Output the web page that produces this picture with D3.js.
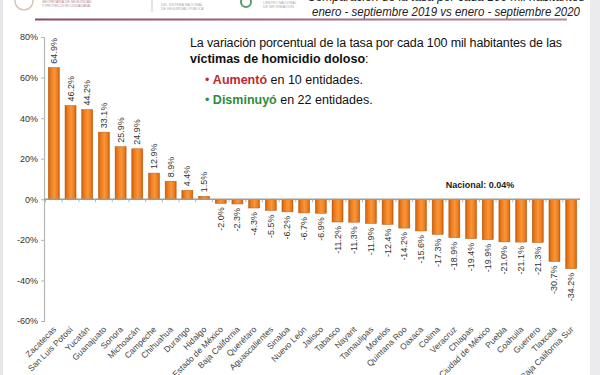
<!DOCTYPE html>
<html>
<head>
<meta charset="utf-8">
<script src="https://cdn.jsdelivr.net/npm/d3@7"></script>
<style>
  body { margin: 0; background: #fff; }
  svg { display: block; font-family: Arial, "Liberation Sans", sans-serif; }
</style>
</head>
<body>
<svg id="chart" width="600" height="375"></svg>
<script>
var width = 600;
var height = 375;

// entidades y variación porcentual (%)
var states = ["Zacatecas", "San Luis Potosí", "Yucatán", "Guanajuato", "Sonora", "Michoacán",
    "Campeche", "Chihuahua", "Durango", "Hidalgo", "Estado de México", "Baja California",
    "Querétaro", "Aguascalientes", "Sinaloa", "Nuevo León", "Jalisco", "Tabasco", "Nayarit",
    "Tamaulipas", "Morelos", "Quintana Roo", "Oaxaca", "Colima", "Veracruz", "Chiapas",
    "Ciudad de México", "Puebla", "Coahuila", "Guerrero", "Tlaxcala", "Baja California Sur"];
var values = [64.9, 46.2, 44.2, 33.1, 25.9, 24.9, 12.9, 8.9, 4.4, 1.5, -2.0, -2.3, -4.3, -5.5,
    -6.2, -6.7, -6.9, -11.2, -11.3, -11.9, -12.4, -14.2, -15.6, -17.3, -18.9, -19.4, -19.9,
    -21.0, -21.1, -21.3, -30.7, -34.2];
var yTicks = [80, 60, 40, 20, 0, -20, -40, -60];
var nacional = "Nacional: 0.04%";

var svg = d3.select("#chart");
var defs = svg.append("defs");

// page edges (photo of slide)
svg.append("rect").attr("x", 0).attr("y", 0).attr("width", 3).attr("height", height).attr("fill", "#e6e6e8");
svg.append("rect").attr("x", 590).attr("y", 0).attr("width", 10).attr("height", height).attr("fill", "#ebebee");

// header logos (faint)
var hdr = svg.append("g").attr("fill", "#b48a96").style("font-size", "3.5px");
hdr.append("circle").attr("cx", 24).attr("cy", 1).attr("r", 9).attr("fill", "none").attr("stroke", "#d8c6b0").attr("stroke-width", 1.5);
hdr.append("text").attr("x", 42).attr("y", 3).text("SECRETARÍA DE SEGURIDAD");
hdr.append("text").attr("x", 42).attr("y", 7).text("Y PROTECCIÓN CIUDADANA");
svg.append("line").attr("x1", 152).attr("x2", 152).attr("y1", 0).attr("y2", 12).attr("stroke", "#ccc");
hdr.append("text").attr("x", 161).attr("y", 6).attr("fill", "#aaa").text("DEL SISTEMA NACIONAL");
hdr.append("text").attr("x", 161).attr("y", 10).attr("fill", "#aaa").text("DE SEGURIDAD PÚBLICA");
hdr.append("circle").attr("cx", 246).attr("cy", 2).attr("r", 5).attr("fill", "none").attr("stroke", "#5a9b6a").attr("stroke-width", 2);
hdr.append("text").attr("x", 263).attr("y", 4).attr("fill", "#aaa").text("CENTRO NACIONAL");
hdr.append("text").attr("x", 263).attr("y", 8).attr("fill", "#aaa").text("DE INFORMACIÓN");

svg.append("text").attr("x", 446).attr("y", 0.5).attr("text-anchor", "middle")
    .style("font-size", "12px").style("font-style", "italic").attr("fill", "#222")
    .text("Comparación de la tasa por cada 100 mil habitantes");
svg.append("text").attr("x", 446).attr("y", 15.5).attr("text-anchor", "middle")
    .attr("textLength", 268).attr("lengthAdjust", "spacingAndGlyphs")
    .style("font-size", "12px").style("font-style", "italic").attr("fill", "#222")
    .text("enero - septiembre 2019 vs enero - septiembre 2020");

var grad0 = defs.append("linearGradient").attr("id", "hline")
    .attr("x1", "0%").attr("x2", "100%");
grad0.append("stop").attr("offset", "0%").attr("stop-color", "#8a4a66");
grad0.append("stop").attr("offset", "100%").attr("stop-color", "#b88aa0");
svg.append("rect").attr("x", 35).attr("y", 18.5).attr("width", 532).attr("height", 2).attr("fill", "url(#hline)");

// bar gradient
var bg = defs.append("linearGradient").attr("id", "bar").attr("x1", "0%").attr("x2", "100%");
bg.append("stop").attr("offset", "0%").attr("stop-color", "#c95f0e");
bg.append("stop").attr("offset", "25%").attr("stop-color", "#ef7d1c");
bg.append("stop").attr("offset", "55%").attr("stop-color", "#f8963c");
bg.append("stop").attr("offset", "85%").attr("stop-color", "#ec7a1a");
bg.append("stop").attr("offset", "100%").attr("stop-color", "#c45a0c");

var x = d3.scaleBand().domain(states).range([45, 580]).paddingInner(0.34).paddingOuter(0.2);
var y = d3.scaleLinear().domain([-60, 80]).range([321, 37]);

// y axis
var yAxis = svg.append("g").attr("transform", "translate(44,0)")
    .call(d3.axisLeft(y).tickValues(yTicks).tickSize(3).tickFormat(d => d + "%"));
yAxis.select(".domain").attr("stroke", "#b5b5b5").attr("stroke-width", 1.2);
yAxis.selectAll(".tick line").attr("stroke", "#b5b5b5");
yAxis.selectAll("text").attr("fill", "#333").style("font-size", "9px").attr("x", -6);

// bars
svg.selectAll(".bar").data(values).enter().append("rect")
    .attr("class", "bar")
    .attr("x", (d, i) => x(states[i]))
    .attr("width", x.bandwidth())
    .attr("y", d => y(Math.max(0, d)))
    .attr("height", d => Math.abs(y(d) - y(0)))
    .attr("fill", "url(#bar)")
    .attr("stroke", "#b85a10").attr("stroke-width", 0.5);

// zero line
svg.append("line").attr("x1", 44).attr("x2", 580).attr("y1", y(0)).attr("y2", y(0))
    .attr("stroke", "#9a9a9a").attr("stroke-width", 1.5);
svg.selectAll(".zt").data(states).enter().append("line")
    .attr("x1", d => x(d) - x.step() * x.paddingInner() / 2)
    .attr("x2", d => x(d) - x.step() * x.paddingInner() / 2)
    .attr("y1", y(0)).attr("y2", y(0) + 3).attr("stroke", "#b5b5b5");

// value labels
svg.selectAll(".val").data(values).enter().append("text")
    .attr("class", "val")
    .attr("transform", (d, i) => {
        var cx = x(states[i]) + x.bandwidth() / 2 + 3;
        var cy = d >= 0 ? y(d) - 4 : y(d) + 4;
        return "translate(" + cx + "," + cy + ") rotate(-90)";
    })
    .attr("text-anchor", d => d >= 0 ? "start" : "end")
    .style("font-size", "9px").attr("fill", "#333")
    .text(d => d.toFixed(1) + "%");

// category labels
svg.selectAll(".cat").data(states).enter().append("text")
    .attr("transform", d => "translate(" + (x(d) + x.bandwidth() / 2 + 3) + ",330) rotate(-45)")
    .attr("text-anchor", "end")
    .style("font-size", "8.5px").attr("fill", "#444")
    .text(d => d);

svg.append("text").attr("x", 480).attr("y", 188).attr("text-anchor", "middle")
    .style("font-size", "9px").style("font-weight", "bold").attr("fill", "#222")
    .text(nacional);

// text block
var tb = svg.append("g").style("font-size", "12.5px").attr("fill", "#111");
tb.append("text").attr("x", 190).attr("y", 47).attr("textLength", 372).attr("lengthAdjust", "spacing")
    .text("La variación porcentual de la tasa por cada 100 mil habitantes de las");
var l2 = tb.append("text").attr("x", 190).attr("y", 63);
l2.append("tspan").style("font-weight", "bold").text("víctimas de homicidio doloso");
l2.append("tspan").text(":");
var b1 = tb.append("text").attr("x", 205).attr("y", 84);
b1.append("tspan").attr("fill", "#c0282d").text("•  ");
b1.append("tspan").attr("fill", "#c0282d").style("font-weight", "bold").text("Aumentó");
b1.append("tspan").text(" en 10 entidades.");
var b2 = tb.append("text").attr("x", 205).attr("y", 104);
b2.append("tspan").attr("fill", "#2e8b3a").text("•  ");
b2.append("tspan").attr("fill", "#2e8b3a").style("font-weight", "bold").text("Disminuyó");
b2.append("tspan").text(" en 22 entidades.");
</script>
</body>
</html>
